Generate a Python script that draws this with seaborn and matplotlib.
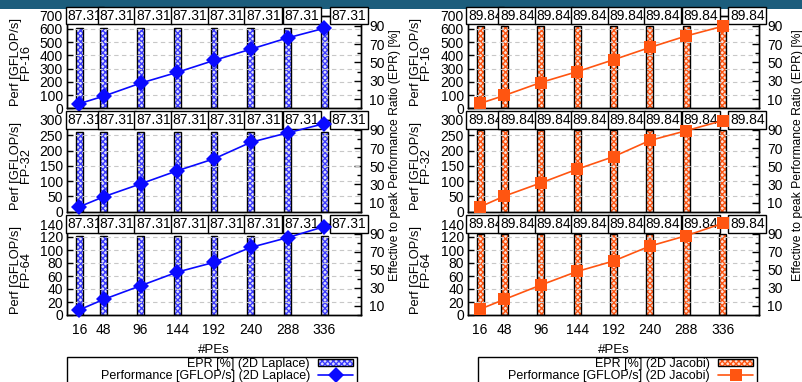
import numpy as np
import pandas as pd
import matplotlib
matplotlib.use("Agg")
import matplotlib.pyplot as plt
import matplotlib.patches as mpatches
import matplotlib.transforms as mtransforms
from matplotlib.lines import Line2D
from matplotlib.ticker import MultipleLocator
from matplotlib.legend_handler import HandlerTuple
import seaborn as sns

# ---------------- data ----------------
pes = [16, 48, 96, 144, 192, 240, 288, 336]
precisions = ["FP-16", "FP-32", "FP-64"]

lap_perf_fp16 = [35, 92, 190, 272, 362, 447, 532, 605]
lap_perf_fp32 = [16, 49, 91, 134, 173, 227, 258, 288]
lap_perf_fp64 = [8, 24, 45, 66, 81, 104, 119, 136]
lap_epr = [87.31] * 8

jac_perf_fp16 = [37, 97, 195, 277, 367, 460, 547, 620]
jac_perf_fp32 = [16, 51, 94, 139, 180, 233, 265, 298]
jac_perf_fp64 = [9, 24, 46, 67, 83, 106, 122, 141]
jac_epr = [89.84] * 8

perf_ylims = [700, 300, 140]
perf_ysteps = [100, 50, 20]

# ---------------- style ----------------
sns.set_theme(style="white")
plt.rcParams["font.family"] = ["Liberation Sans", "DejaVu Sans"]
plt.rcParams["axes.edgecolor"] = "black"
plt.rcParams["axes.linewidth"] = 1.0
plt.rcParams["hatch.linewidth"] = 1.0
plt.rcParams["xtick.color"] = "black"
plt.rcParams["ytick.color"] = "black"
plt.rcParams["text.color"] = "black"
plt.rcParams["axes.labelcolor"] = "black"

W, H = 802, 382
fig = plt.figure(figsize=(W / 100, H / 100), dpi=100)
fig.patch.set_facecolor("white")

# top banner
fig.patches.append(mpatches.Rectangle((0, 1 - 9 / H), 1, 9 / H, transform=fig.transFigure,
                                      facecolor="#1c5d7c", edgecolor="none", zorder=0))

BLUE = "#0a0aff"
ORANGE = "#ff5511"

columns = [
    dict(x0=67, x1=361, lx0=67, lx1=357, perfs=[lap_perf_fp16, lap_perf_fp32, lap_perf_fp64],
         epr=lap_epr, color=BLUE, hcolor="#3a3aff", bg="#dcdcff", marker="D", ms=8.5,
         name="2D Laplace", ylab_x=21, rlab_x=395),
    dict(x0=468, x1=759, lx0=478, lx1=757, perfs=[jac_perf_fp16, jac_perf_fp32, jac_perf_fp64],
         epr=jac_epr, color=ORANGE, hcolor="#ff5511", bg="#ffe0d4", marker="s", ms=9,
         name="2D Jacobi", ylab_x=421, rlab_x=798),
]
rows = [(15.7, 108.3), (120.0, 211.7), (224.0, 315.0)]
label_px_offsets = [-14, -6.3, -6.4, -6.7, -6.3, -6.7, -5, 5.3]
HATCH = "xxxxxx"

for col in columns:
    cw = col["x1"] - col["x0"]
    for r, (ytop, ybot) in enumerate(rows):
        rect = [col["x0"] / W, 1 - ybot / H, cw / W, (ybot - ytop) / H]
        ax = fig.add_axes(rect)
        ax2 = ax.twinx()
        ax.set_zorder(ax2.get_zorder() + 1)
        ax.patch.set_visible(False)

        df = pd.DataFrame({"pes": pes, "epr": col["epr"], "perf": col["perfs"][r]})

        # bars (EPR) on right axis
        sns.barplot(data=df, x="pes", y="epr", native_scale=True, width=0.28, errorbar=None,
                    color=col["bg"], edgecolor=col["hcolor"], linewidth=0, hatch=HATCH, ax=ax2)
        sns.barplot(data=df, x="pes", y="epr", native_scale=True, width=0.28, errorbar=None,
                    color="black", fill=False, linewidth=1.0, ax=ax2)
        for p in ax2.patches:
            if p.get_fill() is False or p.get_facecolor()[3] == 0:
                p.set_edgecolor("black")

        # performance line on left axis
        sns.lineplot(data=df, x="pes", y="perf", color=col["color"], marker=col["marker"],
                     markersize=col["ms"], markeredgewidth=0, linewidth=1.2, ax=ax)
        for ln in ax.lines:
            ln.set_clip_on(False)
            ln.set_zorder(6)

        ax.set_xlim(0, 384)
        ax.set_ylim(0, perf_ylims[r])
        ax2.set_ylim(0, 101)
        ax.set_yticks(np.arange(0, perf_ylims[r] + 1, perf_ysteps[r]))
        ax2.set_yticks([10, 30, 50, 70, 90])
        ax2.yaxis.set_minor_locator(MultipleLocator(10))
        ax.set_xticks(pes)

        ax.grid(True, axis="y", color="#c8c8c8", linestyle=(0, (4, 3)), linewidth=0.8)
        ax.grid(False, axis="x")
        ax2.grid(False)

        ax.tick_params(axis="y", direction="in", length=4, width=1, labelsize=10, pad=3, left=True)
        ax2.tick_params(axis="y", which="major", direction="in", length=5, width=1, labelsize=10,
                        pad=6, right=True)
        ax2.tick_params(axis="y", which="minor", direction="in", length=3, width=1, right=True)
        ax.tick_params(axis="x", length=0, labelsize=10, pad=6)
        ax2.set_ylabel("")
        ax.set_ylabel("Perf [GFLOP/s]\n" + precisions[r], fontsize=9.3, linespacing=0.85)
        ax.yaxis.label.set_verticalalignment("center")
        ax.yaxis.set_label_coords((col["ylab_x"] - col["x0"]) / cw, 0.5)

        if r < 2:
            ax.set_xlabel("")
            ax.tick_params(axis="x", labelbottom=False)
        else:
            ax.set_xlabel("#PEs", fontsize=9.5, labelpad=5)

        for sp in ax.spines.values():
            sp.set_color("black")
            sp.set_linewidth(1.0)
            sp.set_zorder(3)

        # value labels in boxes at the top
        trans = mtransforms.blended_transform_factory(ax.transData, ax.transAxes)
        for i, (x, v) in enumerate(zip(pes, col["epr"])):
            t = mtransforms.offset_copy(trans, fig=fig, x=label_px_offsets[i] + 2, y=0, units="dots")
            ax.text(x, 1.0, "{:.2f}".format(v), transform=t, ha="left", va="center",
                    fontsize=10, clip_on=False, zorder=5,
                    bbox=dict(boxstyle="square,pad=0.12", facecolor="white",
                              edgecolor="black", linewidth=1.0))

    # right label for the column
    fig.text(col["rlab_x"] / W, 1 - 155 / H, "Effective to peak Performance Ratio (EPR) [%]",
             rotation=90, ha="center", va="center", fontsize=8.7)

    # legend frame (extends below the figure edge, like the reference)
    fig.patches.append(mpatches.Rectangle((col["lx0"] / W, -0.05), (col["lx1"] - col["lx0"]) / W,
                                          (1 - 357 / H) + 0.05, transform=fig.transFigure,
                                          facecolor="white", edgecolor="black", linewidth=1.0,
                                          zorder=1))
    bar_h = (mpatches.Patch(facecolor=col["bg"], edgecolor=col["hcolor"], hatch=HATCH, linewidth=0),
             mpatches.Patch(facecolor="none", edgecolor="black", linewidth=1.0))
    line_h = Line2D([], [], color=col["color"], marker=col["marker"], markersize=col["ms"],
                    markeredgewidth=0, linewidth=1.2)
    leg = fig.legend([bar_h, line_h],
                     ["EPR [%] (" + col["name"] + ")", "Performance [GFLOP/s] (" + col["name"] + ")"],
                     handler_map={tuple: HandlerTuple(ndivide=1, pad=0)},
                     loc="upper right",
                     bbox_to_anchor=((col["lx1"] - 4) / W, 1 - 358 / H),
                     markerfirst=False, alignment="right",
                     frameon=False, fontsize=9, handlelength=2.8, handleheight=0.5,
                     labelspacing=0.0, borderpad=0.0, handletextpad=0.65, borderaxespad=0)
    for txt in leg.get_texts():
        txt.set_horizontalalignment("right")
    leg._legend_box.align = "right"

fig.savefig("out.png", dpi=100)
